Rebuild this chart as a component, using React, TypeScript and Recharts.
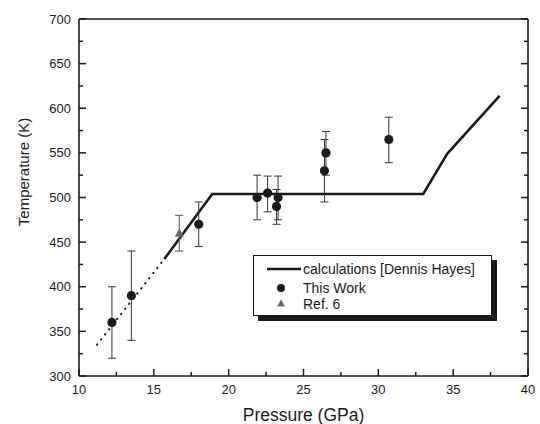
import React from "react"
import { ComposedChart, XAxis, YAxis, Line, Scatter, ErrorBar, Legend } from "recharts"

// calculated curve, dotted extrapolation below ~15.7 GPa
const calcSolidP = [15.7, 18.9, 33.0, 34.6, 38.1]
const calcSolidT = [431, 504, 504, 549, 614]
const calcDottedP = [11.2, 15.7]
const calcDottedT = [335, 431]

// measured points, with lower / upper bounds of the error bars
const thisWorkP = [12.2, 13.5, 18.0, 21.9, 22.6, 23.3, 23.2, 26.4, 26.5, 30.7]
const thisWorkT = [360, 390, 470, 500, 505, 500, 490, 530, 550, 565]
const thisWorkLo = [320, 340, 445, 475, 484, 475, 470, 495, 525, 539]
const thisWorkHi = [400, 440, 495, 525, 524, 524, 509, 565, 574, 590]

const ref6P = [16.7]
const ref6T = [460]
const ref6Lo = [440]
const ref6Hi = [480]

const pressureTicks = [10, 12.5, 15, 17.5, 20, 22.5, 25, 27.5, 30, 32.5, 35, 37.5, 40]
const temperatureTicks = [
  300, 325, 350, 375, 400, 425, 450, 475, 500, 525, 550, 575, 600, 625, 650, 675, 700,
]

const INK = "#1b1b1b"
const FONT = "'Liberation Sans', Arial, sans-serif"

const toLine = (ps: number[], ts: number[]) => ps.map((p, i) => ({ p, t: ts[i] }))
const toPoints = (ps: number[], ts: number[], lo: number[], hi: number[]) =>
  ps.map((p, i) => ({ p, t: ts[i], err: [ts[i] - lo[i], hi[i] - ts[i]] }))

const calcSolid = toLine(calcSolidP, calcSolidT)
const calcDotted = toLine(calcDottedP, calcDottedT)
const thisWork = toPoints(thisWorkP, thisWorkT, thisWorkLo, thisWorkHi)
const ref6 = toPoints(ref6P, ref6T, ref6Lo, ref6Hi)

const isMajorX = (v: number) => v % 5 === 0
const isMajorY = (v: number) => v % 50 === 0

const BottomTick = (props: any) => {
  const { x, y, payload } = props
  const major = isMajorX(payload.value)
  return (
    <g>
      <line x1={x} y1={y} x2={x} y2={y - (major ? 7 : 4)} stroke={INK} strokeWidth={1.5} />
      {major && (
        <text x={x} y={y + 18} textAnchor="middle" fontSize={13} fontFamily={FONT} fill={INK}>
          {payload.value}
        </text>
      )}
    </g>
  )
}

const TopTick = (props: any) => {
  const { x, y, payload } = props
  const major = isMajorX(payload.value)
  return <line x1={x} y1={y} x2={x} y2={y + (major ? 7 : 4)} stroke={INK} strokeWidth={1.5} />
}

const LeftTick = (props: any) => {
  const { x, y, payload } = props
  const major = isMajorY(payload.value)
  return (
    <g>
      <line x1={x} y1={y} x2={x + (major ? 7 : 4)} y2={y} stroke={INK} strokeWidth={1.5} />
      {major && (
        <text x={x - 8} y={y + 4.5} textAnchor="end" fontSize={13} fontFamily={FONT} fill={INK}>
          {payload.value}
        </text>
      )}
    </g>
  )
}

const RightTick = (props: any) => {
  const { x, y, payload } = props
  const major = isMajorY(payload.value)
  return <line x1={x} y1={y} x2={x - (major ? 7 : 4)} y2={y} stroke={INK} strokeWidth={1.5} />
}

const Dot = (props: any) => <circle cx={props.cx} cy={props.cy} r={4.6} fill={INK} />

const Tri = (props: any) => {
  const { cx, cy } = props
  return <polygon points={`${cx},${cy - 5} ${cx - 4.5},${cy + 3.5} ${cx + 4.5},${cy + 3.5}`} fill="#6a6a6a" />
}

const LegendBox = () => (
  <div
    style={{
      width: 237,
      height: 59,
      border: `1px solid ${INK}`,
      boxShadow: `5px 5px 0 ${INK}`,
      background: "#fff",
      position: "relative",
    }}
  >
    <svg width={237} height={59} style={{ position: "absolute", left: 0, top: 0 }}>
      <line x1={13} y1={13} x2={47} y2={13} stroke={INK} strokeWidth={2.5} />
      <circle cx={27} cy={32} r={4} fill={INK} />
      <polygon points="27,43.5 23,50.5 31,50.5" fill="#6a6a6a" />
      <text x={49} y={18} fontSize={14} fontFamily={FONT} fill={INK}>calculations [Dennis Hayes]</text>
      <text x={49} y={37} fontSize={14} fontFamily={FONT} fill={INK}>This Work</text>
      <text x={49} y={53} fontSize={14} fontFamily={FONT} fill={INK}>Ref. 6</text>
    </svg>
  </div>
)

export default function App() {
  return (
    <div style={{ position: "absolute", left: 0, top: 0, background: "#fff" }}>
      <ComposedChart width={540} height={424} margin={{ top: 18, right: 11, bottom: 0, left: 0 }}>
        <XAxis
          dataKey="p"
          type="number"
          domain={[10, 40]}
          ticks={pressureTicks}
          interval={0}
          allowDataOverflow
          height={48}
          tickSize={0}
          tickMargin={0}
          tick={BottomTick}
          axisLine={{ stroke: INK, strokeWidth: 1.6 }}
          tickLine={false}
          label={{
            content: (p: any) => (
              <text
                x={p.viewBox.x + p.viewBox.width / 2}
                y={421}
                textAnchor="middle"
                fontSize={17.5}
                fontFamily={FONT}
                fill={INK}
              >
                Pressure (GPa)
              </text>
            ),
          }}
        />
        <XAxis
          xAxisId="top"
          orientation="top"
          type="number"
          domain={[10, 40]}
          ticks={pressureTicks}
          interval={0}
          allowDataOverflow
          height={1}
          tickSize={0}
          tickMargin={0}
          tick={TopTick}
          axisLine={{ stroke: INK, strokeWidth: 1.6 }}
          tickLine={false}
        />
        <YAxis
          dataKey="t"
          type="number"
          domain={[300, 700]}
          ticks={temperatureTicks}
          interval={0}
          allowDataOverflow
          width={79}
          tickSize={0}
          tickMargin={0}
          tick={LeftTick}
          axisLine={{ stroke: INK, strokeWidth: 1.6 }}
          tickLine={false}
          label={{
            content: () => (
              <text
                x={28.5}
                y={172}
                transform="rotate(-90 28.5 172)"
                textAnchor="middle"
                fontSize={15}
                fontFamily={FONT}
                fill={INK}
              >
                Temperature (K)
              </text>
            ),
          }}
        />
        <YAxis
          yAxisId="right"
          orientation="right"
          type="number"
          domain={[300, 700]}
          ticks={temperatureTicks}
          interval={0}
          allowDataOverflow
          width={1}
          tickSize={0}
          tickMargin={0}
          tick={RightTick}
          axisLine={{ stroke: INK, strokeWidth: 1.6 }}
          tickLine={false}
        />
        <Line
          data={calcDotted}
          dataKey="t"
          stroke={INK}
          strokeWidth={2}
          strokeDasharray="0.5 6"
          strokeLinecap="round"
          dot={false}
          activeDot={false}
          isAnimationActive={false}
        />
        <Line
          data={calcSolid}
          dataKey="t"
          stroke={INK}
          strokeWidth={2.6}
          dot={false}
          activeDot={false}
          isAnimationActive={false}
        />
        <Scatter data={thisWork} dataKey="t" shape={Dot} isAnimationActive={false}>
          <ErrorBar dataKey="err" direction="y" width={4} stroke="#333" strokeWidth={1} />
        </Scatter>
        <Scatter data={ref6} dataKey="t" shape={Tri} isAnimationActive={false}>
          <ErrorBar dataKey="err" direction="y" width={4} stroke="#555" strokeWidth={1} />
        </Scatter>
        <Legend
          layout="vertical"
          align="center"
          verticalAlign="middle"
          content={LegendBox}
          wrapperStyle={{ left: 253, top: 255, width: 239, height: 61 }}
        />
      </ComposedChart>
    </div>
  )
}
